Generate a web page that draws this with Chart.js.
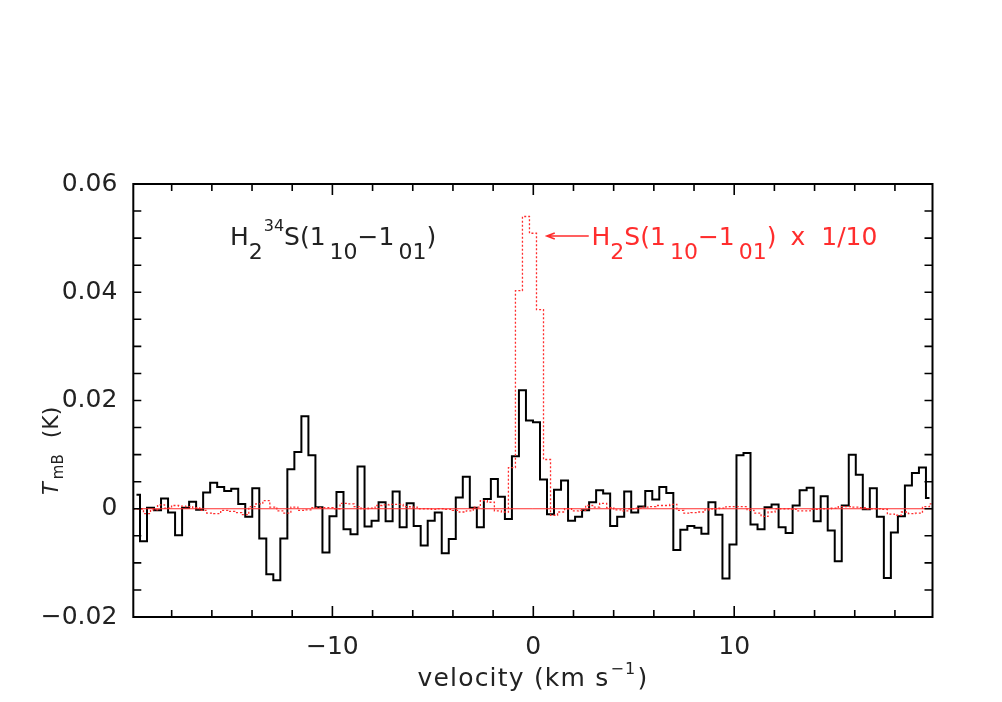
<!DOCTYPE html>
<html>
<head>
<meta charset="utf-8">
<script src="https://cdn.jsdelivr.net/npm/chart.js@4.4.0/dist/chart.umd.min.js"></script>
<style>
  html, body { margin: 0; padding: 0; background: #fff; overflow: hidden; }
  canvas { display: block; }
</style>
</head>
<body>
<canvas id="spec" width="1002" height="702"></canvas>
<script>
// H2 34S(1_10-1_01), T_mB in K, one value per channel
const h2s34Tmb = [
  0.0026, -0.0060, 0.0002, -0.0003, 0.0019, -0.0007, -0.0049, 0.0002, 0.0013, -0.0002,
  0.0030, 0.0048, 0.0040, 0.0033, 0.0037, 0.0009, -0.0015, 0.0038, -0.0055, -0.0121,
  -0.0132, -0.0055, 0.0073, 0.0105, 0.0171, 0.0099, 0.0003, -0.0081, -0.0014, 0.0031,
  -0.0038, -0.0047, 0.0078, -0.0033, -0.0022, 0.0012, -0.0023, 0.0032, -0.0034, 0.0010,
  -0.0032, -0.0068, -0.0022, -0.0007, -0.0082, -0.0056, 0.0021, 0.0059, 0.0002, -0.0034,
  0.0018, 0.0055, 0.0022, -0.0019, 0.0097, 0.0219, 0.0163, 0.0160, 0.0054, -0.0010,
  0.0035, 0.0052, -0.0022, -0.0015, -0.0003, 0.0012, 0.0034, 0.0028, -0.0032, -0.0015,
  0.0032, -0.0007, 0.0004, 0.0033, 0.0017, 0.0040, 0.0029, -0.0076, -0.0039, -0.0032,
  -0.0035, -0.0046, 0.0012, -0.0011, -0.0129, -0.0066, 0.0099, 0.0103, -0.0029, -0.0038,
  0.0003, 0.0008, -0.0034, -0.0045, 0.0006, 0.0034, 0.0039, -0.0023, 0.0023, -0.0040,
  -0.0097, 0.0006, 0.0100, 0.0063, -0.0001, 0.0038, -0.0015, -0.0128, -0.0044, -0.0014,
  0.0043, 0.0066, 0.0076, 0.0020
];

// H2S(1_10-1_01) x 1/10
const h2sTmbScaled = [
  0, 0, -0.0009, -0.0002, 0.0007, 0.0001, 0.0006, 0.0005, 0.0004, 0.0002,
  -0.0003, -0.0008, -0.0009, -0.0003, -0.0005, -0.0007, -0.0011, 0.0004, 0.0009, 0.0015,
  0.0003, -0.0004, -0.0008, 0.0003, -0.0003, -0.0002, 0.0002, 0.0002, 0.0002, 0,
  0.0010, 0.0009, 0.0004, 0, 0.0001, 0.0006, 0.0007, 0.0008, 0.0008, 0.0004,
  0.0003, 0, 0, -0.0001, 0, -0.0001, -0.0003, -0.0006, -0.0004, 0.0003,
  0.0015, 0.0012, -0.0004, -0.0006, 0.0076, 0.0403, 0.0540, 0.0509, 0.0368, 0.0091,
  -0.0012, -0.0006, 0, -0.0004, -0.0003, 0.0006, 0.0003, 0.0010, 0.0002, -0.0002,
  -0.0004, 0, 0.0001, 0.0003, 0.0004, 0.0006, 0.0006, 0.0008, -0.0003, -0.0008,
  -0.0007, -0.0006, -0.0002, 0, 0.0001, 0.0004, 0.0004, 0.0004, -0.0003, -0.0008,
  -0.0014, -0.0006, 0, 0, -0.0001, -0.0004, -0.0004, -0.0001, 0, 0,
  0.0001, 0.0004, 0.0004, 0.0003, 0.0002, 0, 0, -0.0001, -0.0010, -0.0012,
  -0.0006, -0.0009, -0.0008, 0.0004, 0.0009
];

// velocity grid (km/s): centre of first channel and channel width
const h2s34FirstChan = -19.752;
const h2sFirstChan = -19.926;
const chanWidth = 0.3493;

const xTicks = [-10, 0, 10];
const yTicks = [-0.02, 0, 0.02, 0.04, 0.06];

const RED = 'rgb(255,45,45)';
const INK = '#222';
const FONT = '"DejaVu Sans"';

const toPoints = (vals, v0) => vals.map((t, i) => ({ x: v0 + i * chanWidth, y: t }));

function minus(s) { return s.replace('-', '\u2212'); }

// draws a run of text pieces (sub/superscripts) left to right, returns end x
function drawRich(ctx, parts, x, y) {
  for (const p of parts) {
    ctx.font = (p.style || '') + ' ' + p.size + 'px ' + FONT;
    x += p.pre || 0;
    ctx.fillText(p.t, x, y + (p.dy || 0));
    x += ctx.measureText(p.t).width;
  }
  return x;
}
function richWidth(ctx, parts) {
  let w = 0;
  for (const p of parts) {
    ctx.font = (p.style || '') + ' ' + p.size + 'px ' + FONT;
    w += (p.pre || 0) + ctx.measureText(p.t).width;
  }
  return w;
}

const frame = {
  id: 'frame',
  afterDatasetsDraw(chart) {
    const { ctx, chartArea: a, scales: { x, y } } = chart;
    ctx.save();

    // zero baseline
    const y0 = y.getPixelForValue(0);
    ctx.strokeStyle = RED;
    ctx.lineWidth = 1;
    ctx.beginPath();
    ctx.moveTo(a.left, y0);
    ctx.lineTo(a.right, y0);
    ctx.stroke();

    // box
    ctx.strokeStyle = '#000';
    ctx.lineWidth = 2;
    ctx.strokeRect(a.left, a.top, a.right - a.left, a.bottom - a.top);

    // inward ticks on all four sides
    ctx.lineWidth = 1.6;
    ctx.beginPath();
    for (let v = -18; v <= 18; v += 2) {
      const px = x.getPixelForValue(v);
      const len = v % 10 === 0 ? 11 : 7;
      ctx.moveTo(px, a.bottom); ctx.lineTo(px, a.bottom - len);
      ctx.moveTo(px, a.top); ctx.lineTo(px, a.top + len);
    }
    for (let i = -3; i <= 11; i++) {
      const py = y.getPixelForValue(i * 0.005);
      ctx.moveTo(a.left, py); ctx.lineTo(a.left + 8, py);
      ctx.moveTo(a.right, py); ctx.lineTo(a.right - 8, py);
    }
    ctx.stroke();

    ctx.textBaseline = 'alphabetic';
    ctx.textAlign = 'left';

    // line labels
    ctx.fillStyle = INK;
    drawRich(ctx, [
      { t: 'H', size: 25 },
      { t: '2', size: 22, dy: 14 },
      { t: '34', size: 16, dy: -14, pre: 1 },
      { t: 'S(1', size: 25 },
      { t: '10', size: 22, dy: 14, pre: 4 },
      { t: '\u22121', size: 25 },
      { t: '01', size: 22, dy: 14, pre: 4 },
      { t: ')', size: 25 }
    ], x.getPixelForValue(-15.1), y.getPixelForValue(0.0487));

    const ax = x.getPixelForValue(0.67), ay = y.getPixelForValue(0.0504);
    ctx.strokeStyle = RED;
    ctx.fillStyle = RED;
    ctx.lineWidth = 1.5;
    ctx.beginPath();
    ctx.moveTo(ax + 1, ay); ctx.lineTo(ax + 42, ay);
    ctx.moveTo(ax + 8, ay - 3); ctx.lineTo(ax, ay); ctx.lineTo(ax + 8, ay + 3);
    ctx.stroke();
    drawRich(ctx, [
      { t: 'H', size: 25 },
      { t: '2', size: 22, dy: 14 },
      { t: 'S(1', size: 25 },
      { t: '10', size: 22, dy: 14, pre: 4 },
      { t: '\u22121', size: 25 },
      { t: '01', size: 22, dy: 14, pre: 4 },
      { t: ')', size: 25 },
      { t: 'x', size: 25, pre: 14 },
      { t: '1/10', size: 25, pre: 16 }
    ], x.getPixelForValue(2.9), y.getPixelForValue(0.0487));

    // axis titles
    ctx.fillStyle = INK;
    ctx.letterSpacing = '1.2px';
    const xt = [
      { t: 'velocity (km s', size: 25 },
      { t: '\u22121', size: 16, dy: -12, pre: 1 },
      { t: ')', size: 25, pre: 1 }
    ];
    const cx = (a.left + a.right) / 2;
    drawRich(ctx, xt, cx - richWidth(ctx, xt) / 2, 686);
    ctx.letterSpacing = '0px';

    ctx.translate(58, 495);
    ctx.rotate(-Math.PI / 2);
    drawRich(ctx, [
      { t: 'T', size: 21, style: 'italic' },
      { t: 'mB', size: 15, dy: 5, pre: 3 },
      { t: '(K)', size: 22, pre: 16 }
    ], 0, 0);

    ctx.restore();
  }
};

new Chart(document.getElementById('spec'), {
  type: 'line',
  data: {
    datasets: [
      {
        label: 'H2S(1_10-1_01) x 1/10',
        data: toPoints(h2sTmbScaled, h2sFirstChan),
        borderColor: RED,
        borderWidth: 1.3,
        borderDash: [2, 2],
        stepped: 'middle',
        pointRadius: 0,
        fill: false
      },
      {
        label: 'H2 34S(1_10-1_01)',
        data: toPoints(h2s34Tmb, h2s34FirstChan),
        borderColor: '#000',
        borderWidth: 2,
        borderJoinStyle: 'miter',
        stepped: 'middle',
        pointRadius: 0,
        fill: false
      }
    ]
  },
  options: {
    responsive: false,
    animation: false,
    devicePixelRatio: 1,
    layout: { padding: { top: 184, right: 69.5, left: 0, bottom: 0 } },
    plugins: { legend: { display: false }, tooltip: { enabled: false } },
    scales: {
      x: {
        type: 'linear',
        min: -19.91,
        max: 19.87,
        grid: { display: false, drawTicks: false },
        border: { display: false },
        afterBuildTicks: (s) => { s.ticks = xTicks.map(v => ({ value: v })); },
        afterFit: (s) => { s.height = 85; },
        ticks: {
          padding: 15,
          color: INK,
          font: { family: 'DejaVu Sans', size: 25 },
          maxRotation: 0,
          callback: (v) => minus(String(v))
        }
      },
      y: {
        min: -0.02,
        max: 0.06,
        grid: { display: false, drawTicks: false },
        border: { display: false },
        afterBuildTicks: (s) => { s.ticks = yTicks.map(v => ({ value: v })); },
        afterFit: (s) => { s.width = 133.3; },
        ticks: {
          padding: 16,
          color: INK,
          font: { family: 'DejaVu Sans', size: 25 },
          callback: (v) => v === 0 ? '0' : minus(v.toFixed(2))
        }
      }
    }
  },
  plugins: [frame]
});
</script>
</body>
</html>
